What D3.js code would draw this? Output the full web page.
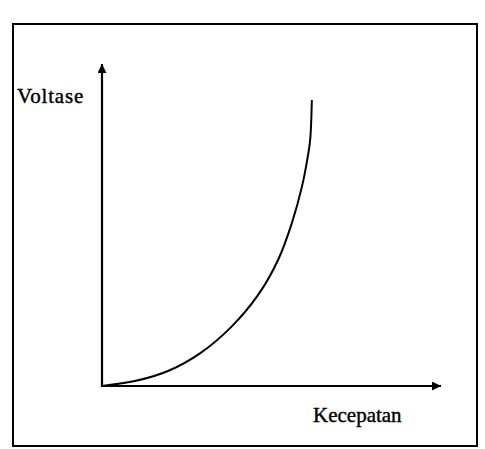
<!DOCTYPE html>
<html>
<head>
<meta charset="utf-8">
<script src="https://cdn.jsdelivr.net/npm/d3@7"></script>
<style>
    html, body { margin: 0; padding: 0; background: #fff; }
    svg { display: block; }
    text { font-family: "Liberation Serif", "Times New Roman", serif; fill: #000; stroke: #000; stroke-width: 0.4px; }
</style>
</head>
<body>
<div id="chart"></div>
<script>
'use strict';

// Curve (arbitrary units, axes have no ticks)
var speed   = [0, 10, 20, 29, 38, 46, 52, 56, 59, 60.5, 61.4, 61.9];
var voltage = [0, 1.6, 4.9, 10.2, 18.2, 28.2, 39.3, 50.6, 62, 70, 76.4, 88.8];
var axisMax = [100, 100];   // x end, y end (arrow tips)
var labels  = {x: 'Kecepatan', y: 'Voltase'};

var width  = 485,
    height = 449,
    frame  = {left: 13, top: 24, right: 477, bottom: 446},
    origin = {x: 102, y: 386};

var svg = d3.select('#chart').append('svg')
    .attr('width', width)
    .attr('height', height);

var x = d3.scaleLinear().domain([0, axisMax[0]]).range([origin.x, 441]);
var y = d3.scaleLinear().domain([0, axisMax[1]]).range([origin.y, 64]);

// outer frame
svg.append('rect')
    .attr('x', frame.left)
    .attr('y', frame.top)
    .attr('width', frame.right - frame.left)
    .attr('height', frame.bottom - frame.top)
    .attr('fill', 'none')
    .attr('stroke', '#000')
    .attr('stroke-width', 2);

var defs = svg.append('defs');
defs.append('marker')
    .attr('id', 'arrow')
    .attr('viewBox', '0 0 10 10')
    .attr('refX', 10)
    .attr('refY', 5)
    .attr('markerUnits', 'userSpaceOnUse')
    .attr('markerWidth', 10)
    .attr('markerHeight', 9)
    .attr('orient', 'auto')
    .append('path')
    .attr('d', 'M0,0L10,5L0,10Z')
    .attr('fill', '#000');

// axes
svg.append('line')
    .attr('x1', x(0)).attr('y1', y(0))
    .attr('x2', x(axisMax[0])).attr('y2', y(0))
    .attr('stroke', '#000')
    .attr('stroke-width', 2.2)
    .attr('marker-end', 'url(#arrow)');

svg.append('line')
    .attr('x1', x(0)).attr('y1', y(0) + 1)
    .attr('x2', x(0)).attr('y2', y(axisMax[1]))
    .attr('stroke', '#000')
    .attr('stroke-width', 2.2)
    .attr('marker-end', 'url(#arrow)');

// curve
var points = speed.map(function (s, i) {
    return [s, voltage[i]];
});

var line = d3.line()
    .x(function (d) { return x(d[0]); })
    .y(function (d) { return y(d[1]); })
    .curve(d3.curveCatmullRom.alpha(0.5));

svg.append('path')
    .datum(points)
    .attr('d', line)
    .attr('fill', 'none')
    .attr('stroke', '#000')
    .attr('stroke-width', 2);

// labels
svg.append('text')
    .attr('x', 17)
    .attr('y', 103)
    .style('font-size', '21px')
    .style('letter-spacing', '0.8px')
    .text(labels.y);

svg.append('text')
    .attr('x', 313)
    .attr('y', 422)
    .style('font-size', '21px')
    .text(labels.x);
</script>
</body>
</html>
